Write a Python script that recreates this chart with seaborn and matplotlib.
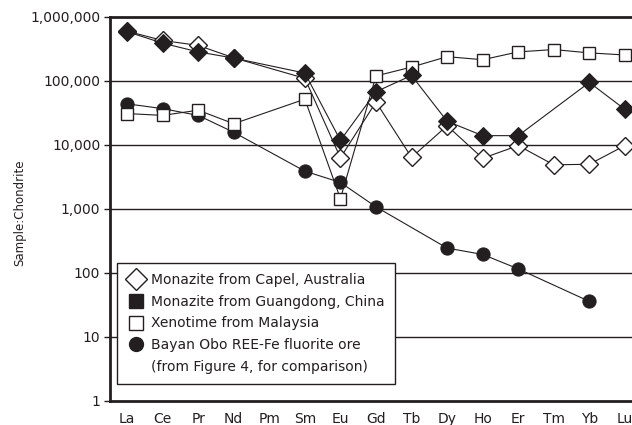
import matplotlib
matplotlib.use("Agg")
import matplotlib.pyplot as plt
from matplotlib.lines import Line2D
from matplotlib.ticker import FixedLocator, NullLocator
import seaborn as sns
import numpy as np
import pandas as pd

# REE elements along the x axis
elements = ['La', 'Ce', 'Pr', 'Nd', 'Pm', 'Sm', 'Eu', 'Gd', 'Tb', 'Dy', 'Ho', 'Er', 'Tm', 'Yb', 'Lu']

# sample / chondrite ratios (nan = not plotted)
nan = np.nan
capel = [600000, 430000, 360000, 230000, nan, 110000, 6300, 47000, 6400, 20000, 6200, 9800, 4900, 5000, 9800]
guangdong = [590000, 390000, 285000, 228000, nan, 133000, 11800, 68000, 122000, 23500, 14000, 14000, nan, 95000, 36000]
xenotime = [31000, 29000, 35000, 21500, nan, 52000, 1450, 120000, 165000, 240000, 215000, 285000, 310000, 275000, 255000]
bayan_obo = [44000, 37000, 29000, 15800, nan, 3900, 2600, 1080, nan, 245, 195, 116, nan, 36, nan]

ink = '#231f20'

sns.set_theme(style='white')
plt.rcParams['font.family'] = ['DejaVu Sans']

fig = plt.figure(figsize=(6.32, 4.25), dpi=100)
ax = fig.add_axes([110 / 632, 24 / 425, 522 / 632, 384 / 425])

series = [
    ('bayan', bayan_obo, dict(marker='o', markersize=9.5, markerfacecolor=ink, markeredgecolor=ink)),
    ('xeno', xenotime, dict(marker='s', markersize=8.5, markerfacecolor='white', markeredgecolor=ink, markeredgewidth=1.0)),
    ('capel', capel, dict(marker='D', markersize=9.5, markerfacecolor='white', markeredgecolor=ink, markeredgewidth=1.0)),
    ('guang', guangdong, dict(marker='D', markersize=9.5, markerfacecolor=ink, markeredgecolor=ink)),
]

for name, vals, style in series:
    df = pd.DataFrame({'x': np.arange(len(elements)), 'y': vals}).dropna()
    sns.lineplot(data=df, x='x', y='y', ax=ax, color=ink, linewidth=0.8,
                 sort=False, estimator=None, clip_on=True, **style)

ax.set_yscale('log')
ax.set_ylim(1, 1e6)
ax.set_xlim(-0.48, 14.2)

yt = [1, 10, 100, 1000, 10000, 100000, 1000000]
ax.yaxis.set_major_locator(FixedLocator(yt))
ax.yaxis.set_minor_locator(NullLocator())
ax.set_yticklabels([f'{v:,}' for v in yt], fontsize=10, color=ink)
ax.set_xticks(np.arange(len(elements)))
ax.set_xticklabels(elements, fontsize=10, color=ink)
ax.tick_params(axis='y', length=4, width=1, color=ink, direction='out', left=True, pad=3)
ax.tick_params(axis='x', length=0, pad=8)

for v in yt[1:-1]:
    ax.axhline(v, color=ink, linewidth=1.0, zorder=0)

for side in ['top', 'bottom', 'left']:
    ax.spines[side].set_color(ink)
    ax.spines[side].set_linewidth(2)
ax.spines['right'].set_visible(False)

ax.set_xlabel('')
ax.set_ylabel('Sample:Chondrite', fontsize=8.5, color=ink)
ax.yaxis.set_label_coords(-0.16, 0.49)

handles = [
    Line2D([], [], linestyle='none', marker='D', markersize=11, markerfacecolor='white', markeredgecolor=ink, markeredgewidth=1.0),
    Line2D([], [], linestyle='none', marker='s', markersize=9.5, markerfacecolor=ink, markeredgecolor=ink),
    Line2D([], [], linestyle='none', marker='s', markersize=9.5, markerfacecolor='white', markeredgecolor=ink, markeredgewidth=1.0),
    Line2D([], [], linestyle='none', marker='o', markersize=10, markerfacecolor=ink, markeredgecolor=ink),
    Line2D([], [], linestyle='none', marker=None),
]
labels = [
    'Monazite from Capel, Australia',
    'Monazite from Guangdong, China',
    'Xenotime from Malaysia',
    'Bayan Obo REE-Fe fluorite ore',
    '(from Figure 4, for comparison)',
]
leg = ax.legend(handles, labels, loc='lower left', bbox_to_anchor=(0.013, 0.044),
                borderaxespad=0, fontsize=10, frameon=True, fancybox=False,
                handlelength=1.25, handletextpad=0.45, labelspacing=0.55,
                borderpad=0.75, framealpha=1)
leg.get_frame().set_edgecolor(ink)
leg.get_frame().set_linewidth(1.0)
for t in leg.get_texts():
    t.set_color(ink)

fig.savefig('out.png', dpi=100)
